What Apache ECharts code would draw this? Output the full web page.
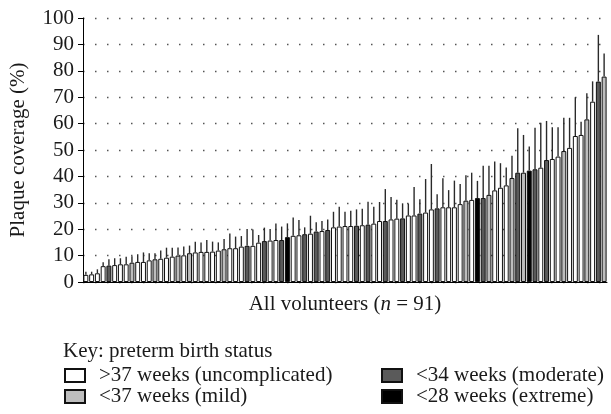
<!DOCTYPE html>
<html>
<head>
<meta charset="utf-8">
<script src="https://cdn.jsdelivr.net/npm/echarts@6/dist/echarts.min.js"></script>
<style>
html,body{margin:0;padding:0;background:#fff;}
#c{width:611px;height:414px;}
</style>
</head>
<body>
<div id="c"></div>
<script>
// ---- data ----
const values = [2.7,2.9,3.3,6.0,6.2,6.4,6.7,6.7,7.3,7.6,
  7.6,8.2,8.6,8.8,9.2,9.6,10.0,10.1,10.9,11.2,
  11.4,11.4,11.5,11.9,12.4,12.8,12.8,13.4,13.7,13.7,
  14.9,15.5,15.7,15.9,15.9,17.0,17.5,17.7,18.1,18.3,
  19.1,19.3,19.7,20.7,21.0,21.2,21.2,21.3,21.5,21.7,
  22.1,23.1,23.1,23.7,24.0,24.1,25.2,25.2,25.9,26.3,
  27.5,27.9,28.3,28.3,28.3,29.5,30.8,31.1,31.8,31.8,
  33.0,34.7,35.7,36.6,39.4,41.4,41.4,42.2,42.7,43.3,
  46.2,46.6,47.5,49.6,50.8,55.3,55.7,61.6,68.3,75.9,77.8];
const errors = [1.2,1.0,1.5,1.5,2.4,2.6,2.3,2.9,2.5,2.9,
  3.6,2.7,2.3,3.1,3.8,3.4,3.1,3.3,2.9,4.0,
  3.6,4.5,3.8,3.1,3.9,5.6,4.4,4.0,6.4,6.2,
  2.9,5.1,4.4,6.3,5.1,5.2,6.9,5.8,2.6,6.8,
  3.5,3.8,4.0,5.9,7.5,5.4,5.8,6.2,6.2,8.7,
  6.4,7.2,12.1,8.5,7.2,5.7,4.5,10.8,5.4,12.7,
  17.2,5.3,11.0,6.5,10.1,7.6,9.6,10.3,6.5,12.2,
  11.0,10.9,9.3,6.8,8.4,16.8,14.3,9.1,15.7,17.0,
  14.8,12.0,11.1,12.6,11.4,14.7,5.0,9.9,7.7,17.7,8.8];
// U = uncomplicated, M = mild, D = moderate, E = extreme
const status = ['U','U','U','U','D','U','U','U','M','U',
  'U','U','M','U','U','U','M','U','M','U',
  'U','U','U','U','M','U','U','U','D','U',
  'U','D','U','U','D','E','U','U','D','U',
  'D','U','D','U','U','U','U','D','U','D',
  'U','U','D','U','U','D','U','U','D','U',
  'U','D','U','U','U','U','M','U','E','D',
  'M','U','U','U','M','D','M','E','D','U',
  'D','U','U','M','U','U','U','M','U','D','M'];
const groupCodes = ['U','M','D','E'];
const groupNames = ['>37 weeks (uncomplicated)','<37 weeks (mild)','<34 weeks (moderate)','<28 weeks (extreme)'];
const groupColors = ['#ffffff','#bdbdbd','#5a5a5a','#000000'];
const yTicks = [0,10,20,30,40,50,60,70,80,90,100];
const categories = values.map((v,i)=>String(i+1));

const FONT = '"Liberation Serif", "Times New Roman", serif';
const TXT = '#1a1a1a';
const FS = 21;

const barSeries = groupCodes.map((code, g) => ({
  name: groupNames[g],
  type: 'bar',
  barGap: '-100%',
  barCategoryGap: '14%',
  data: values.map((v,i)=> status[i]===code ? v : '-'),
  itemStyle: {color: groupColors[g], borderColor: '#111', borderWidth: 1},
  emphasis: {disabled: true},
  z: 2
}));

const errSeries = {
  name: 'err',
  type: 'custom',
  z: 3,
  data: values.map((v,i)=>[i, v, errors[i]]),
  renderItem: function(params, api){
    const i = api.value(0), v = api.value(1), e = api.value(2);
    const p0 = api.coord([i, v]);
    const p1 = api.coord([i, v + e]);
    return {type:'line', shape:{x1:p0[0], y1:p0[1], x2:p1[0], y2:p1[1]},
      style:{stroke:'#2a2a2a', lineWidth:1.4}};
  }
};

const legendBase = {
  orient: 'vertical', top: 365, padding: 0, height: 48,
  itemWidth: 20, itemHeight: 13, itemGap: 0,
  icon: 'rect',
  textStyle: {fontFamily: FONT, fontSize: FS, color: TXT, padding: [0,0,0,9]},
  selectedMode: false
};

const chart = echarts.init(document.getElementById('c'), null, {renderer:'canvas'});
chart.setOption({
  animation: false,
  backgroundColor: '#ffffff',
  textStyle: {fontFamily: FONT},
  title: {
    text: 'Key: preterm birth status',
    left: 58, top: 336,
    textStyle: {fontFamily: FONT, fontSize: FS, fontWeight: 'normal', color: TXT}
  },
  legend: [
    Object.assign({}, legendBase, {data: [groupNames[0], groupNames[1]], left: 64}),
    Object.assign({}, legendBase, {data: [groupNames[2], groupNames[3]], left: 381})
  ],
  grid: {left: 82, right: 4, top: 18, bottom: 132},
  xAxis: {
    type: 'category',
    data: categories,
    name: 'All volunteers ({i|n} = 91)',
    nameLocation: 'middle',
    nameGap: 12,
    nameTextStyle: {fontFamily: FONT, fontSize: FS, color: TXT,
      rich: {i: {fontFamily: FONT, fontSize: FS, fontStyle: 'italic', color: TXT}}},
    axisLine: {lineStyle: {color: '#000', width: 1}},
    axisTick: {show: false},
    axisLabel: {show: false},
    splitLine: {show: false}
  },
  yAxis: {
    type: 'value',
    min: 0, max: 100, interval: 10,
    name: 'Plaque coverage (%)',
    nameLocation: 'middle',
    nameRotate: 90,
    nameGap: 54,
    nameTextStyle: {fontFamily: FONT, fontSize: FS, color: TXT},
    axisLine: {show: true, lineStyle: {color: '#000', width: 1}},
    axisTick: {show: true, length: 5, lineStyle: {color: '#000'}},
    axisLabel: {fontFamily: FONT, fontSize: FS, color: TXT, margin: 9,
      formatter: v => yTicks.indexOf(v) >= 0 ? String(v) : ''},
    splitLine: {show: true, lineStyle: {color: '#555', width: 1.3, type: [1.5, 10.5]}}
  },
  series: barSeries.concat([errSeries])
});
</script>
</body>
</html>
